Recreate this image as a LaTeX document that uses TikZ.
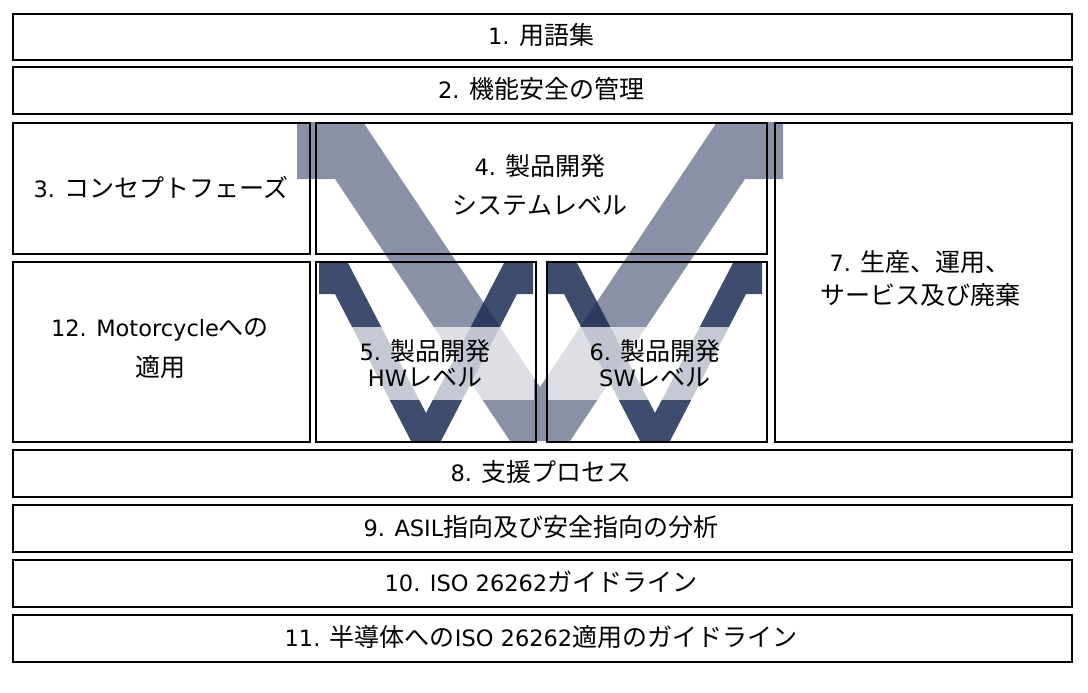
\documentclass[tikz,border=0pt]{standalone}
\usepackage{fontspec}
\setmainfont{Noto Sans CJK JP}
\newfontfamily\lat{DejaVu Sans}[Scale=0.9]
\newcommand{\La}[1]{{\lat #1}}
\definecolor{bigvc}{RGB}{31,45,85}
\definecolor{smallvc}{RGB}{62,76,110}
\begin{document}
\begin{tikzpicture}[x=1pt,y=-1pt,
  box/.style={draw=black,line width=2pt,inner sep=0pt,anchor=north west},
  lbl/.style={inner sep=0pt,font=\fontsize{25}{25}\selectfont,align=center},
  bigv/.style={fill=bigvc,fill opacity=0.52},
  smallv/.style={fill=smallvc},
  band/.style={fill=white,fill opacity=0.7},
]
\useasboundingbox (0,0) rectangle (1088,693);
% small V shapes
\foreach \cx in {426,655}{
  \fill[smallv] (\cx-107,263) -- (\cx-78,263) -- (\cx,413) -- (\cx+78,263) -- (\cx+107,263)
    -- (\cx+107,294) -- (\cx+91,294) -- (\cx+15,441) -- (\cx-15,441) -- (\cx-91,294)
    -- (\cx-107,294) -- cycle;
}
% big V shape
\fill[bigv] (297,122) -- (363,122) -- (540,387) -- (717,122) -- (783,122) -- (783,179)
  -- (745,179) -- (570,441) -- (510,441) -- (335,179) -- (297,179) -- cycle;
% translucent text bands
\fill[band] (316,327) rectangle (534,400);
\fill[band] (547,327) rectangle (765,400);
% boxes
\node[box,minimum width=1059pt,minimum height=46pt] (b1) at (12,13) {};
\node[box,minimum width=1059pt,minimum height=47pt] (b2) at (12,66) {};
\node[box,minimum width=297pt,minimum height=131pt] (b3) at (12,122) {};
\node[box,minimum width=451pt,minimum height=131pt] (b4) at (315,122) {};
\node[box,minimum width=297pt,minimum height=319pt] (b7) at (774,122) {};
\node[box,minimum width=297pt,minimum height=180pt] (b12) at (12,261) {};
\node[box,minimum width=220pt,minimum height=180pt] (b5) at (315,261) {};
\node[box,minimum width=220pt,minimum height=180pt] (b6) at (546,261) {};
\node[box,minimum width=1059pt,minimum height=47pt] (b8) at (12,449) {};
\node[box,minimum width=1059pt,minimum height=47pt] (b9) at (12,504) {};
\node[box,minimum width=1059pt,minimum height=47pt] (b10) at (12,559) {};
\node[box,minimum width=1059pt,minimum height=47pt] (b11) at (12,614) {};
% labels
\node[lbl] (t1) at (541,35) {\La{1. }用語集};
\node[lbl] (t2) at (541,89) {\La{2. }機能安全の管理};
\node[lbl] (t3) at (161,187) {\La{3. }コンセプトフェーズ};
\node[lbl] (t4) at (540,185) {\La{4. }製品開発\\[13.5pt]システムレベル};
\node[lbl] (t7) at (920,278.5) {\La{7. }生産、運用、\\[7.5pt]サービス及び廃棄};
\node[lbl] (t12) at (160,348.5) {\La{12. Motorcycle}への\\[13pt]適用};
\node[lbl] (t5) at (425,363.5) {\La{5. }製品開発\\[1.5pt]\La{HW}レベル};
\node[lbl] (t6) at (655,363.5) {\La{6. }製品開発\\[1.5pt]\La{SW}レベル};
\node[lbl] (t8) at (541,472) {\La{8. }支援プロセス};
\node[lbl] (t9) at (541,527) {\La{9. ASIL}指向及び安全指向の分析};
\node[lbl] (t10) at (541,582) {\La{10. ISO 26262}ガイドライン};
\node[lbl] (t11) at (541,637) {\La{11. }半導体への\La{ISO 26262}適用のガイドライン};
\end{tikzpicture}
\end{document}
